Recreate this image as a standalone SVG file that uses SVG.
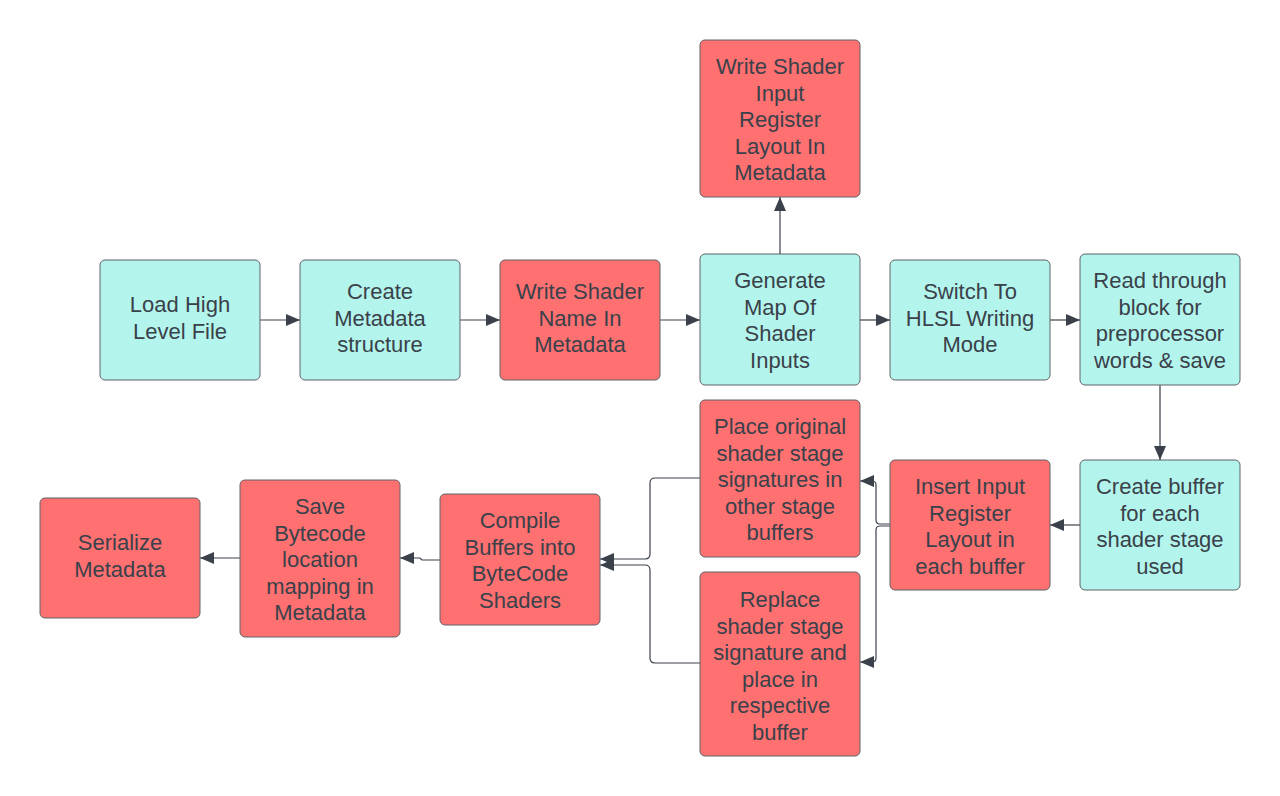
<svg xmlns="http://www.w3.org/2000/svg" width="1280" height="796" viewBox="0 0 1280 796">
<style>
.c{fill:#b3f5ec;stroke:#5f6368;stroke-width:1}
.r{fill:#ff7070;stroke:#5f6368;stroke-width:1}
text{font-family:"Liberation Sans",Arial,sans-serif;font-size:22px;fill:#3a414a;text-anchor:middle}
.e{fill:none;stroke:#3a414a;stroke-width:1.2}
</style>
<defs>
<marker id="a" viewBox="0 0 14 12" refX="14" refY="6" markerWidth="14" markerHeight="12" markerUnits="userSpaceOnUse" orient="auto">
<path d="M0,0 L14,6 L0,12 Z" fill="#3a414a"/>
</marker>
</defs>
<rect width="1280" height="796" fill="#ffffff"/>
<g id="connectors">
<path class="e" d="M260,320 H300" marker-end="url(#a)"/>
<path class="e" d="M460,320 H500" marker-end="url(#a)"/>
<path class="e" d="M660,320 H700" marker-end="url(#a)"/>
<path class="e" d="M860,320 H890" marker-end="url(#a)"/>
<path class="e" d="M1050,320 H1080" marker-end="url(#a)"/>
<path class="e" d="M780,254 V197" marker-end="url(#a)"/>
<path class="e" d="M1160,385 V460" marker-end="url(#a)"/>
<path class="e" d="M1080,525 H1050" marker-end="url(#a)"/>
<path class="e" d="M890,524 H880 Q876,524 876,520 V485 Q876,481 872,481 H860" marker-end="url(#a)"/>
<path class="e" d="M890,526 H880 Q876,526 876,530 V658 Q876,662 872,662 H860" marker-end="url(#a)"/>
<path class="e" d="M700,478 H655 Q650,478 650,483 V554 Q650,559 645,559 H600" marker-end="url(#a)"/>
<path class="e" d="M700,663 H655 Q650,663 650,658 V570 Q650,565 645,565 H600" marker-end="url(#a)"/>
<path class="e" d="M440,560 H422 L420,558 H400" marker-end="url(#a)"/>
<path class="e" d="M240,558 H200" marker-end="url(#a)"/>
</g>
<g id="n1"><rect class="c" x="100" y="260" width="160" height="120" rx="5"/>
<text x="180" y="312">Load High<tspan x="180" dy="26.5">Level File</tspan></text></g>
<g id="n2"><rect class="c" x="300" y="260" width="160" height="120" rx="5"/>
<text x="380" y="299">Create<tspan x="380" dy="26.5">Metadata</tspan><tspan x="380" dy="26.5">structure</tspan></text></g>
<g id="n3"><rect class="r" x="500" y="260" width="160" height="120" rx="5"/>
<text x="580" y="299">Write Shader<tspan x="580" dy="26.5">Name In</tspan><tspan x="580" dy="26.5">Metadata</tspan></text></g>
<g id="n4"><rect class="c" x="700" y="254" width="160" height="131" rx="5"/>
<text x="780" y="288">Generate<tspan x="780" dy="26.5">Map Of</tspan><tspan x="780" dy="26.5">Shader</tspan><tspan x="780" dy="26.5">Inputs</tspan></text></g>
<g id="n5"><rect class="c" x="890" y="260" width="160" height="120" rx="5"/>
<text x="970" y="299">Switch To<tspan x="970" dy="26.5">HLSL Writing</tspan><tspan x="970" dy="26.5">Mode</tspan></text></g>
<g id="n6"><rect class="c" x="1080" y="254" width="160" height="131" rx="5"/>
<text x="1160" y="288">Read through<tspan x="1160" dy="26.5">block for</tspan><tspan x="1160" dy="26.5">preprocessor</tspan><tspan x="1160" dy="26.5">words &amp; save</tspan></text></g>
<g id="n7"><rect class="r" x="700" y="40" width="160" height="157" rx="5"/>
<text x="780" y="74">Write Shader<tspan x="780" dy="26.5">Input</tspan><tspan x="780" dy="26.5">Register</tspan><tspan x="780" dy="26.5">Layout In</tspan><tspan x="780" dy="26.5">Metadata</tspan></text></g>
<g id="n8"><rect class="c" x="1080" y="460" width="160" height="130" rx="5"/>
<text x="1160" y="494">Create buffer<tspan x="1160" dy="26.5">for each</tspan><tspan x="1160" dy="26.5">shader stage</tspan><tspan x="1160" dy="26.5">used</tspan></text></g>
<g id="n9"><rect class="r" x="890" y="460" width="160" height="130" rx="5"/>
<text x="970" y="494">Insert Input<tspan x="970" dy="26.5">Register</tspan><tspan x="970" dy="26.5">Layout in</tspan><tspan x="970" dy="26.5">each buffer</tspan></text></g>
<g id="n10"><rect class="r" x="700" y="400" width="160" height="157" rx="5"/>
<text x="780" y="434">Place original<tspan x="780" dy="26.5">shader stage</tspan><tspan x="780" dy="26.5">signatures in</tspan><tspan x="780" dy="26.5">other stage</tspan><tspan x="780" dy="26.5">buffers</tspan></text></g>
<g id="n11"><rect class="r" x="700" y="572" width="160" height="184" rx="5"/>
<text x="780" y="607">Replace<tspan x="780" dy="26.5">shader stage</tspan><tspan x="780" dy="26.5">signature and</tspan><tspan x="780" dy="26.5">place in</tspan><tspan x="780" dy="26.5">respective</tspan><tspan x="780" dy="26.5">buffer</tspan></text></g>
<g id="n12"><rect class="r" x="440" y="494" width="160" height="131" rx="5"/>
<text x="520" y="528">Compile<tspan x="520" dy="26.5">Buffers into</tspan><tspan x="520" dy="26.5">ByteCode</tspan><tspan x="520" dy="26.5">Shaders</tspan></text></g>
<g id="n13"><rect class="r" x="240" y="480" width="160" height="157" rx="5"/>
<text x="320" y="514">Save<tspan x="320" dy="26.5">Bytecode</tspan><tspan x="320" dy="26.5">location</tspan><tspan x="320" dy="26.5">mapping in</tspan><tspan x="320" dy="26.5">Metadata</tspan></text></g>
<g id="n14"><rect class="r" x="40" y="498" width="160" height="120" rx="5"/>
<text x="120" y="550">Serialize<tspan x="120" dy="26.5">Metadata</tspan></text></g>
</svg>
